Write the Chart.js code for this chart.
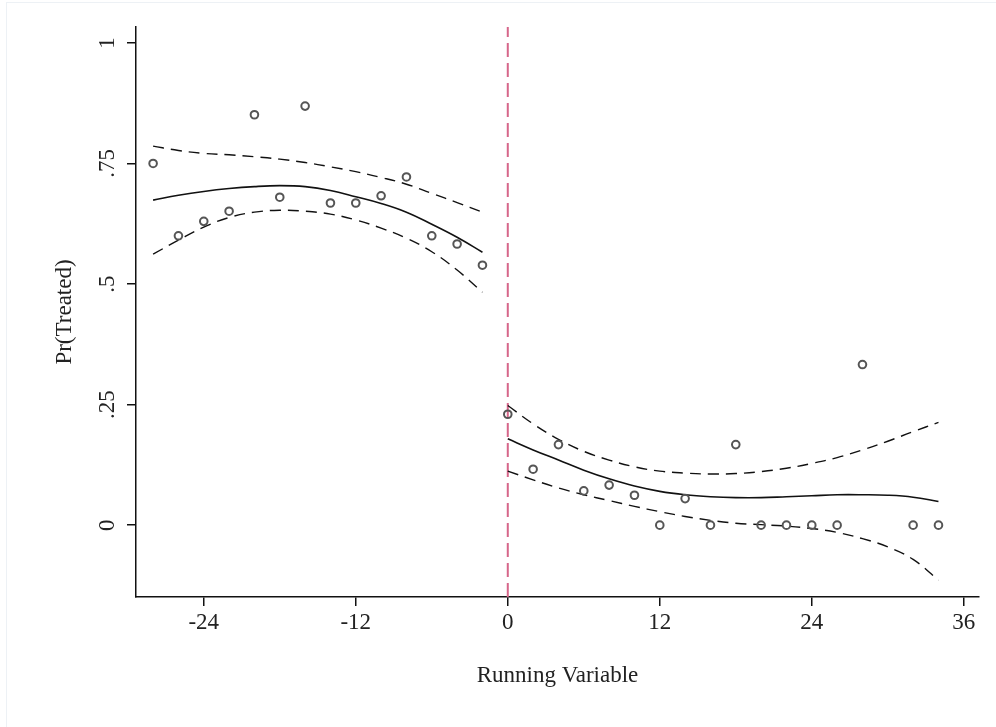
<!DOCTYPE html>
<html>
<head>
<meta charset="utf-8">
<script src="https://cdn.jsdelivr.net/npm/chart.js@4"></script>
<style>
  html, body { margin: 0; padding: 0; background: #fff; overflow: hidden; }
  #wrap { position: relative; width: 996px; height: 727px; }
  #frame { position: absolute; left: 6px; top: 2px; width: 1000px; height: 740px; border: 1px solid #edf1f5; box-sizing: border-box; }
  #chart { position: absolute; left: 0; top: 0; }
</style>
</head>
<body>
<div id="wrap">
  <div id="frame"></div>
  <canvas id="chart" width="996" height="727"></canvas>
</div>
<script>
// binned means
const binX = [-28, -26, -24, -22, -20, -18, -16, -14, -12, -10, -8, -6, -4, -2,
              0, 2, 4, 6, 8, 10, 12, 14, 16, 18, 20, 22, 24, 26, 28, 32, 34];
const binY = [0.75, 0.60, 0.63, 0.651, 0.851, 0.68, 0.869, 0.668, 0.668, 0.683, 0.722, 0.60, 0.583, 0.539,
              0.23, 0.116, 0.167, 0.071, 0.083, 0.062, 0, 0.055, 0, 0.167, 0, 0, 0, 0, 0.333, 0, 0];

// fitted polynomial, left of cutoff
const leftX = [-28, -26, -24, -22, -20, -18, -16, -14, -12, -10, -8, -6, -4, -2];
const leftFit = [0.674, 0.684, 0.692, 0.698, 0.702, 0.704, 0.702, 0.694, 0.681, 0.667, 0.649, 0.624, 0.597, 0.566];
const leftUpper = [0.786, 0.777, 0.771, 0.768, 0.764, 0.759, 0.752, 0.743, 0.733, 0.721, 0.707, 0.688, 0.669, 0.649];
const leftLower = [0.562, 0.591, 0.618, 0.638, 0.649, 0.653, 0.651, 0.645, 0.633, 0.616, 0.595, 0.567, 0.529, 0.483];

// fitted polynomial, right of cutoff
const rightX = [0, 2, 4, 6, 8, 10, 12, 14, 16, 18, 20, 22, 24, 26, 28, 30, 32, 34];
const rightFit = [0.179, 0.156, 0.135, 0.114, 0.096, 0.081, 0.070, 0.063, 0.059, 0.057, 0.057, 0.059, 0.061, 0.063, 0.063, 0.062, 0.058, 0.049];
const rightUpper = [0.248, 0.210, 0.178, 0.153, 0.135, 0.121, 0.112, 0.108, 0.106, 0.107, 0.111, 0.118, 0.128, 0.140, 0.156, 0.174, 0.194, 0.213];
const rightLower = [0.112, 0.094, 0.077, 0.063, 0.051, 0.039, 0.028, 0.018, 0.010, 0.004, 0.001, -0.002, -0.007, -0.015, -0.028, -0.045, -0.071, -0.114];

const cutoff = 0;
const xTicks = [-24, -12, 0, 12, 24, 36];
const yTicks = [0, 0.25, 0.5, 0.75, 1];
const yTickLabels = ['0', '.25', '.5', '.75', '1'];
const xMin = -29.35, xMax = 37.2;
const yMin = -0.149, yMax = 1.033;

const pts = (xs, ys) => xs.map((x, i) => ({ x: x, y: ys[i] }));
const font = { family: '"Liberation Serif", "DejaVu Serif", serif', size: 23 };
const ink = '#222';

function fitLine(xs, ys, dashed) {
  return {
    type: 'line',
    data: pts(xs, ys),
    borderColor: '#111',
    borderWidth: dashed ? 1.4 : 1.6,
    borderDash: dashed ? [11, 7] : [],
    pointRadius: 0,
    tension: 0.4,
    fill: false,
  };
}

new Chart(document.getElementById('chart'), {
  type: 'scatter',
  data: {
    datasets: [
      {
        data: pts(binX, binY),
        pointStyle: 'circle',
        pointRadius: 3.8,
        pointBorderWidth: 2,
        pointBorderColor: '#555',
        pointBackgroundColor: 'rgba(255,255,255,0)',
      },
      fitLine(leftX, leftFit, false),
      fitLine(leftX, leftUpper, true),
      fitLine(leftX, leftLower, true),
      fitLine(rightX, rightFit, false),
      fitLine(rightX, rightUpper, true),
      fitLine(rightX, rightLower, true),
      {
        type: 'line',
        data: [{ x: cutoff, y: yMin }, { x: cutoff, y: yMax }],
        borderColor: '#d6668a',
        borderWidth: 2,
        borderDash: [14, 6],
        pointRadius: 0,
      },
    ],
  },
  options: {
    responsive: false,
    animation: false,
    layout: { padding: { top: 27, right: 17, bottom: 0, left: 0 } },
    plugins: { legend: { display: false }, tooltip: { enabled: false } },
    scales: {
      x: {
        type: 'linear',
        min: xMin,
        max: xMax,
        afterBuildTicks: (s) => { s.ticks = xTicks.map((v) => ({ value: v })); },
        afterFit: (s) => { s.height = 130; },
        grid: { drawOnChartArea: false, tickLength: 9, color: '#111', lineWidth: 1.5 },
        border: { color: '#111', width: 1.5 },
        ticks: { font: font, color: ink, padding: 3, maxRotation: 0 },
        title: { display: true, text: 'Running Variable', font: font, color: ink, padding: { top: 0, bottom: 37 } },
      },
      y: {
        type: 'linear',
        min: yMin,
        max: yMax,
        afterBuildTicks: (s) => { s.ticks = yTicks.map((v) => ({ value: v })); },
        afterFit: (s) => { s.width = 136; },
        grid: { drawOnChartArea: false, tickLength: 9, color: '#111', lineWidth: 1.5 },
        border: { color: '#111', width: 1.5 },
        ticks: {
          font: font,
          color: ink,
          padding: 5,
          minRotation: 90,
          maxRotation: 90,
          crossAlign: 'center',
          callback: (v, i) => yTickLabels[i],
        },
        title: { display: true, text: 'Pr(Treated)', font: font, color: ink, padding: { top: 51, bottom: 0 } },
      },
    },
  },
});
</script>
</body>
</html>
